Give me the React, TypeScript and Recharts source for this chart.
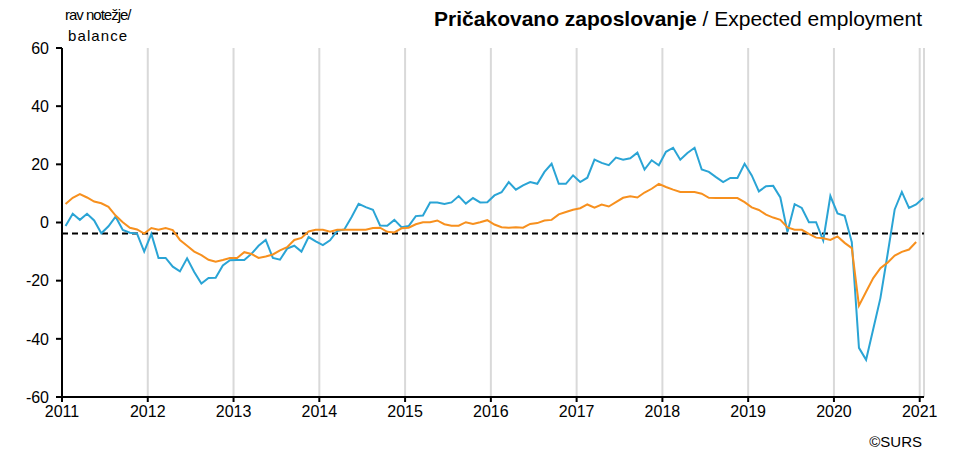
import { LineChart, Line, XAxis, YAxis, CartesianGrid, ReferenceLine } from 'recharts'

// monthly, Jan 2011 .. Jan 2021
const expectedEmployment = [
  -1.2, 3.0, 0.9, 3.0, 0.7, -3.7, -1.3, 2.0, -2.6, -3.5, -3.8, -10.0,
  -3.9, -12.2, -12.2, -15.2, -16.8, -12.3, -17.0, -21.0, -19.1, -19.0, -14.8, -13.0,
  -12.9, -12.9, -10.8, -8.0, -6.0, -12.2, -12.8, -9.0, -8.0, -10.0, -5.0, -6.5,
  -7.8, -6.1, -2.9, -2.4, 1.8, 6.4, 5.3, 4.4, -1.0, -1.1, 0.9, -1.6,
  -1.2, 2.2, 2.4, 6.9, 6.9, 6.4, 6.9, 9.1, 6.5, 8.4, 6.9, 7.0,
  9.3, 10.4, 13.9, 11.3, 12.8, 13.9, 13.3, 17.4, 20.2, 13.3, 13.3, 16.2,
  13.9, 15.4, 21.6, 20.5, 19.7, 22.3, 21.6, 22.1, 24.0, 18.2, 21.4, 19.7,
  24.3, 25.7, 21.6, 23.9, 25.7, 18.2, 17.4, 15.6, 13.9, 15.3, 15.3, 20.2,
  16.2, 10.7, 12.5, 12.6, 8.6, -3.3, 6.3, 5.0, 0.1, 0.1, -6.2, 9.1,
  3.1, 2.3, -6.8, -43.1, -47.2, -36.6, -26.0, -11.0, 4.5, 10.5, 5.0, 6.2,
  8.4,
]

// trend, Jan 2011 .. Dec 2020
const trend = [
  6.4, 8.5, 9.8, 8.6, 7.2, 6.6, 5.4, 2.4, 0.1, -1.8, -2.4, -3.8,
  -1.9, -2.5, -1.9, -2.6, -6.0, -8.0, -10.0, -11.2, -12.8, -13.5, -12.9, -12.2,
  -12.2, -10.2, -10.8, -12.2, -11.7, -11.0, -9.6, -8.5, -6.0, -5.3, -3.1, -2.5,
  -2.5, -3.2, -2.5, -2.5, -2.5, -2.5, -2.5, -1.9, -1.8, -3.2, -3.4, -2.0,
  -1.8, -0.6, 0.1, 0.1, 0.7, -0.6, -1.1, -1.1, 0.1, -0.5, 0.1, 0.8,
  -0.7, -1.6, -1.8, -1.6, -1.8, -0.5, -0.2, 0.7, 0.9, 2.8, 3.6, 4.4,
  4.9, 6.2, 5.1, 6.2, 5.5, 7.0, 8.5, 9.0, 8.6, 10.3, 11.6, 13.3,
  12.2, 11.3, 10.5, 10.5, 10.5, 9.9, 8.5, 8.4, 8.4, 8.4, 8.4, 7.0,
  5.2, 4.3, 2.7, 1.7, 0.9, -1.7, -2.5, -2.5, -3.9, -5.2, -5.4, -6.0,
  -4.8, -7.0, -8.8, -28.6, -23.8, -19.1, -15.7, -13.8, -11.4, -10.1, -9.3, -6.7,
]

const longTermAverage = -3.8
const years = [2011, 2012, 2013, 2014, 2015, 2016, 2017, 2018, 2019, 2020, 2021]
const yTicks = [-60, -40, -20, 0, 20, 40, 60]

const data = expectedEmployment.map((v, i) => ({
  x: i + 0.5,
  balance: v,
  trend: i < trend.length ? trend[i] : null,
}))

const font = "'Liberation Sans', Arial, sans-serif"

export default function App() {
  return (
    <div style={{ position: 'absolute', left: 0, top: 0, width: 958, height: 454, background: '#fff', fontFamily: font }}>
      <div style={{ position: 'absolute', left: 65, top: 5, fontSize: 15, lineHeight: '20px', color: '#000', letterSpacing: -1 }}>
        rav notežje/
      </div>
      <div style={{ position: 'absolute', left: 68, top: 26, fontSize: 15, lineHeight: '20px', color: '#000', letterSpacing: 1.1 }}>
        balance
      </div>
      <div style={{ position: 'absolute', right: 36, top: 6, fontSize: 21, lineHeight: '26px', color: '#000', whiteSpace: 'nowrap' }}>
        <b>Pričakovano zaposlovanje</b> / Expected employment
      </div>
      <div style={{ position: 'absolute', right: 36, top: 433, fontSize: 15, color: '#000' }}>©SURS</div>
      <LineChart width={958} height={454} data={data} margin={{ top: 48, right: 34, left: 10, bottom: 27 }}>
        <CartesianGrid horizontal={false} stroke="#d9d9d9" strokeWidth={2} />
        <XAxis
          type="number"
          dataKey="x"
          domain={[0, 120.6]}
          ticks={years.map((y) => (y - 2011) * 12)}
          tickFormatter={(v) => String(2011 + v / 12)}
          height={30}
          stroke="#000"
          strokeWidth={2}
          tickSize={5}
          tickMargin={4}
          tick={{ fill: '#000', fontSize: 16, fontFamily: font }}
          interval={0}
        />
        <YAxis
          domain={[-60, 60]}
          ticks={yTicks}
          width={52}
          stroke="#000"
          strokeWidth={2}
          tickSize={6}
          tickMargin={7}
          tick={{ fill: '#000', fontSize: 16, fontFamily: font }}
          interval={0}
        />
        <ReferenceLine y={longTermAverage} stroke="#000" strokeWidth={2} strokeDasharray="6 4" />
        <Line type="linear" dataKey="balance" stroke="#2aa4d5" strokeWidth={2} dot={false} isAnimationActive={false} />
        <Line type="linear" dataKey="trend" stroke="#f7901e" strokeWidth={2} dot={false} isAnimationActive={false} connectNulls={false} />
      </LineChart>
    </div>
  )
}
